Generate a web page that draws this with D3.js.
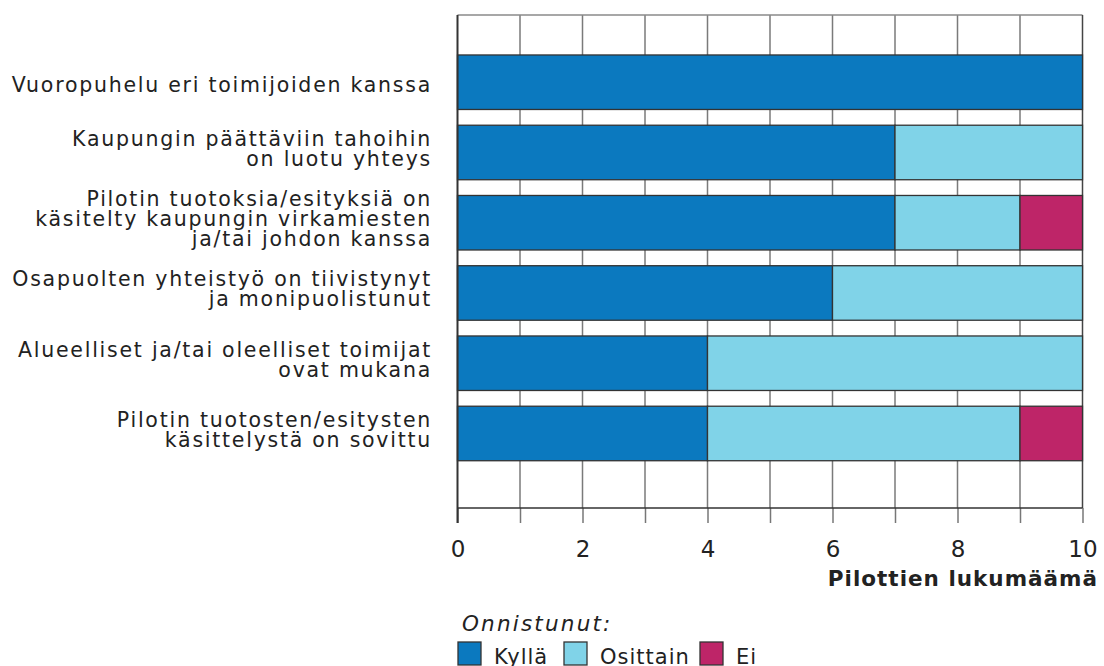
<!DOCTYPE html>
<html><head><meta charset="utf-8">
<script src="https://cdn.jsdelivr.net/npm/d3@7"></script>
<style>body{margin:0;background:#fff}svg{display:block}text{font-family:"DejaVu Sans",sans-serif;fill:#222}</style>
</head><body><svg id="c" width="1104" height="666"></svg>
<script>
const categories = [
  ["Vuoropuhelu eri toimijoiden kanssa"],
  ["Kaupungin päättäviin tahoihin","on luotu yhteys"],
  ["Pilotin tuotoksia/esityksiä on","käsitelty kaupungin virkamiesten","ja/tai johdon kanssa"],
  ["Osapuolten yhteistyö on tiivistynyt","ja monipuolistunut"],
  ["Alueelliset ja/tai oleelliset toimijat","ovat mukana"],
  ["Pilotin tuotosten/esitysten","käsittelystä on sovittu"]
];
const kylla    = [10, 7, 7, 6, 4, 4];
const osittain = [0, 3, 2, 4, 6, 5];
const ei       = [0, 0, 1, 0, 0, 1];
const seriesNames = ["Kyllä", "Osittain", "Ei"];
const colors = ["#0b79bf", "#80d3e8", "#be2568"];
const xTicks = [0, 2, 4, 6, 8, 10];
const xTitle = "Pilottien lukumäämä";
const legendTitle = "Onnistunut:";

const svg = d3.select("#c");
const x = d3.scaleLinear().domain([0, 10]).range([457.5, 1082.5]);
const idx = categories.map((d, i) => i);
const y = d3.scaleBand().domain(idx).range([47.1, 468.6]).paddingInner(0.224).paddingOuter(0.112);
const plotTop = 15, plotBottom = 508;

// gridlines
svg.append("g").selectAll("line").data(d3.range(1, 10)).join("line")
  .attr("x1", d => x(d)).attr("x2", d => x(d)).attr("y1", plotTop).attr("y2", plotBottom)
  .attr("stroke", "#7a7a7a").attr("stroke-width", 1.5);
// frame top and right
svg.append("line").attr("x1", x(0)).attr("x2", x(10)).attr("y1", plotTop).attr("y2", plotTop).attr("stroke", "#8a8a8a").attr("stroke-width", 1.5);
svg.append("line").attr("x1", x(10)).attr("x2", x(10)).attr("y1", plotTop).attr("y2", plotBottom).attr("stroke", "#444").attr("stroke-width", 1.5);

// stacked bars
const data = idx.map(i => ({i, vals: [kylla[i], osittain[i], ei[i]]}));
const stack = d3.stack().keys([0, 1, 2]).value((d, k) => d.vals[k]);
const stacked = stack(data);
svg.append("g").selectAll("g").data(stacked).join("g")
  .attr("fill", (d, k) => colors[k])
  .selectAll("rect").data(d => d.filter(s => s[1] > s[0])).join("rect")
  .attr("x", s => x(s[0])).attr("width", s => x(s[1]) - x(s[0]))
  .attr("y", s => y(s.data.i)).attr("height", y.bandwidth())
  .attr("stroke", "#333").attr("stroke-width", 1.3);

// axis
const axis = svg.append("g").attr("transform", `translate(0,${plotBottom})`)
  .call(d3.axisBottom(x).tickValues(d3.range(0, 11)).tickSize(15).tickPadding(0).tickFormat(d => xTicks.includes(d) ? d : ""));
axis.select(".domain").remove();
axis.selectAll(".tick line").attr("stroke", "#777").attr("stroke-width", 1.5).attr("y1", 0);
axis.selectAll(".tick text").attr("font-size", 23).attr("dy", null).attr("y", 49)
  .attr("fill", "#222").attr("font-family", "DejaVu Sans, sans-serif");
// bottom and left frame
svg.append("line").attr("x1", x(0)).attr("x2", x(10)).attr("y1", plotBottom).attr("y2", plotBottom).attr("stroke", "#333").attr("stroke-width", 1.5);
svg.append("line").attr("x1", x(0)).attr("x2", x(0)).attr("y1", plotTop).attr("y2", plotBottom + 15).attr("stroke", "#333").attr("stroke-width", 2);

// category labels
const lh = 20, capH = 15;
svg.append("g").selectAll("text").data(categories).join("text")
  .attr("text-anchor", "end").attr("font-size", 20.5).attr("letter-spacing", 1.75)
  .attr("transform", (d, i) => {
    const off = d.length === 1 ? 2 : -4;
    return `translate(432,${y(i) + y.bandwidth() / 2 + off - (d.length - 1) * lh / 2 + capH / 2})`;
  })
  .selectAll("tspan").data(d => d).join("tspan")
  .attr("x", 0).attr("dy", (t, j) => j === 0 ? 0 : lh).text(t => t);

// axis title
svg.append("text").attr("x", 1098).attr("y", 586).attr("text-anchor", "end")
  .attr("font-size", 21.5).attr("letter-spacing", 1).attr("font-weight", "bold").text(xTitle);

// legend
svg.append("text").attr("x", 462).attr("y", 631).attr("font-size", 21.5).attr("letter-spacing", 2.2)
  .attr("font-style", "italic").text(legendTitle);
const lg = svg.append("g");
const lx = [458, 564, 700];
seriesNames.forEach((n, k) => {
  lg.append("rect").attr("x", lx[k]).attr("y", 642).attr("width", 23).attr("height", 23)
    .attr("fill", colors[k]).attr("stroke", "#333").attr("stroke-width", 1.3);
  lg.append("text").attr("x", lx[k] + 36).attr("y", 664).attr("font-size", 21).attr("letter-spacing", 1).text(n);
});
</script></body></html>
